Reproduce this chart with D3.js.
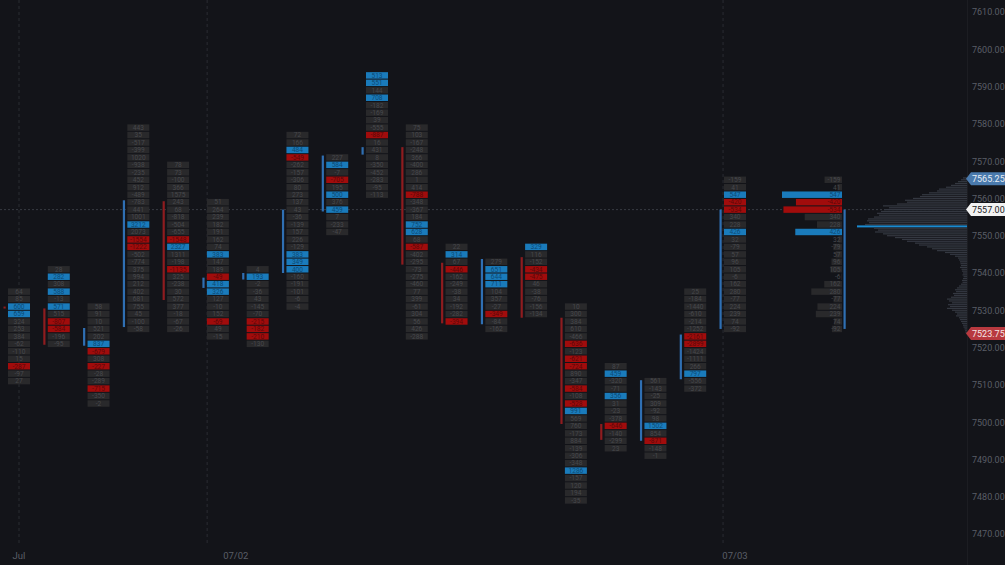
<!DOCTYPE html>
<html>
<head>
<meta charset="utf-8">
<script src="https://cdn.jsdelivr.net/npm/d3@7"></script>
<style>
  html, body { margin: 0; padding: 0; background: #131419; }
  svg { display: block; font-family: Roboto, "Noto Sans", sans-serif; }
</style>
</head>
<body>
<div id="chart"></div>
<script>
// footprint bars: top price level (centre of first 2pt cell), cell deltas top->down
var barTops = [7535, 7541, 7531, 7579, 7569, 7559, 7541, 7577, 7571, 7593, 7579, 7547, 7543, 7547, 7531, 7515, 7511, 7535, 7565];
var barCells = [
  [64, 85, 600, 659, 324, 253, 384, -62, -110, 15, -287, -97, 27],
  [28, 282, 308, 588, -13, 571, 515, -807, -584, -196, -95],
  [58, 91, 10, 521, 202, 837, -679, 308, -227, -28, -289, -715, -350, -2],
  [443, 35, -517, -399, 1020, -938, -235, 452, 912, -489, -783, 441, 1001, 3212, 2073, -1554, -1222, -502, -774, 375, 994, 212, 402, 681, 755, 45, -100, -58],
  [78, 73, -100, 366, 1575, 243, 68, -818, -504, -655, -1548, 2327, 1311, -198, -1135, 325, -238, 30, 572, 377, -18, -67, -26],
  [51, 264, 239, 182, 191, 162, 74, 383, 147, 189, -49, 418, 326, 127, -10, 152, -69, 49, -15],
  [4, 193, -2, -36, 43, -145, -70, -215, -182, -210, -130],
  [72, 166, 484, -549, -262, -157, -306, 80, 273, 137, 43, -36, -139, 157, 226, -129, 383, 349, 400, -160, -191, -101, -6, -4],
  [227, 584, -7, -705, 195, 500, 376, 459, 7, -233, -47],
  [513, 551, 144, 708, -182, -169, 39, -555, -887, 16, 431, 8, -350, -452, -283, -95, -113],
  [75, 103, -167, -248, 366, -400, 286, 1, 414, -788, -348, -367, 184, 752, 628, 68, -587, -402, -295, -73, -275, -460, 77, 399, -61, 304, 56, 426, -288],
  [22, 314, 67, -446, -162, -249, -38, 34, -192, -282, -394],
  [279, 651, 644, 711, 104, 357, -27, -349, -84, -162],
  [329, 116, -152, -434, -475, 46, -38, -76, -156, -134],
  [10, 300, 384, 610, -466, -636, -123, -621, -724, 890, -347, -584, -108, -528, 991, 569, 760, -173, 884, -139, -306, -348, 1286, -157, 120, 194, -35],
  [87, 459, -320, -71, 356, 31, -23, -378, -646, -140, -299, 23],
  [561, -143, -25, 309, -92, 98, 1502, 854, -871, -148, -1],
  [25, -184, -1440, -610, -214, -1252, -2161, -2899, -1424, -1111, 266, 797, -556, -372],
  [-159, 41, 547, -420, -534, 340, 228, 426, 32, -79, 57, 96, 105, -6, 162, 280, -77, 224, 239, 74, -92]
];
// imbalance cells (index into barCells), coloured by sign
var barImbalance = [
  [2, 3, 10], [1, 3, 5, 7, 8], [5, 6, 8, 11], [13, 15, 16], [10, 11, 14],
  [7, 10, 11, 12, 16], [1, 7, 8, 9], [2, 3, 16, 17, 18], [1, 3, 5, 7], [0, 1, 3, 8],
  [9, 13, 14, 16], [1, 3, 10], [1, 2, 3, 7], [0, 3, 4], [5, 7, 8, 11, 13, 14, 22],
  [1, 4, 8], [6, 8], [6, 7, 11], [2, 3, 4, 7]
];
var barOpen  = [7531, 7530.5, 7520.5, 7525.5, 7559.25, 7536, 7538.25, 7540, 7556.5, 7571.75, 7573.75, 7542.75, 7526.25, 7544.25, 7528, 7499.5, 7495, 7511.5, 7525];
var barClose = [7530.5, 7520.75, 7525.25, 7559.5, 7532.75, 7538.75, 7540, 7557, 7571.5, 7573.75, 7542.25, 7526.5, 7543.75, 7528, 7499.5, 7495.25, 7511.25, 7523.5, 7557];

// session volume profile, 0.5pt rows from 7565.5 downward
var profileTop = 7565.5;
var profileVol = [40, 60, 90, 120, 160, 210, 280, 300, 380, 450, 470, 540, 620, 600, 700, 840,
  780, 830, 860, 900, 880, 930, 990, 1000, 980, 1020, 1100, 930, 890, 920, 840, 800,
  720, 650, 600, 520, 480, 400, 350, 300, 220, 170, 120, 90, 80, 70, 65, 60,
  70, 55, 50, 40, 45, 35, 40, 50, 45, 60, 80, 100, 120, 110, 140, 130,
  160, 200, 180, 150, 190, 170, 200, 150, 120, 100, 110, 80, 70, 60, 50, 40,
  35, 25, 20, 15];

var priceTicks = d3.range(7470, 7611, 10);
var priceTags = [
  { price: 7565.25, bg: "#4a7aad", fg: "#e8eef5" },
  { price: 7557.00, bg: "#f2f2f2", fg: "#1a1a1a" },
  { price: 7523.75, bg: "#b8393f", fg: "#f5e6e6" }
];
var crossPrice = 7557;
var dateLines = [0, 4.73, 17.7];
var dateLabels = [{ text: "Jul", at: 0 }, { text: "07/02", at: 5.45 }, { text: "07/03", at: 18 }];

var W = 1005, H = 565;
var svg = d3.select("#chart").append("svg").attr("width", W).attr("height", H);
svg.append("rect").attr("width", W).attr("height", H).attr("fill", "#131419");

var y = d3.scaleLinear().domain([7470, 7610]).range([534, 12]);
var x = d3.scaleLinear().domain([0, 18]).range([19, 735]);
var cellW = 22;
var plotRight = 968;

// grid
var grid = svg.append("g");
grid.selectAll("line.v").data(dateLines).enter().append("line")
  .attr("x1", d => x(d)).attr("x2", d => x(d))
  .attr("y1", 0).attr("y2", 545)
  .attr("stroke", "#2a2c33").attr("stroke-dasharray", "3,3");
grid.append("line")
  .attr("x1", 0).attr("x2", plotRight)
  .attr("y1", y(crossPrice)).attr("y2", y(crossPrice))
  .attr("stroke", "#383b43").attr("stroke-dasharray", "2,2");

function cellY(p) { return y(p + 1) + 0.5; }
var cellH = y(7500) - y(7502) - 1;
var blue = "#1a7bbb", red = "#a10c0c";

// footprint columns
barCells.forEach(function (cells, i) {
  var g = svg.append("g");
  var cx = x(i);
  var hi = barImbalance[i];
  var rows = cells.map((v, j) => ({ v: v, p: barTops[i] - 2 * j, hi: hi.indexOf(j) >= 0 }));
  g.selectAll("rect").data(rows).enter().append("rect")
    .attr("x", cx - cellW / 2).attr("width", cellW)
    .attr("y", d => cellY(d.p)).attr("height", cellH)
    .attr("fill", d => d.hi ? (d.v > 0 ? blue : red) : "#29292b");
  g.selectAll("text").data(rows).enter().append("text")
    .attr("x", cx).attr("y", d => y(d.p) + 0.3)
    .attr("text-anchor", "middle").attr("dominant-baseline", "central")
    .attr("font-size", 6.6)
    .attr("fill", d => d.hi ? (d.v > 0 ? "#0d4a74" : "#5c0808") : "#47484c")
    .text(d => d.v);
  var up = barClose[i] >= barOpen[i];
  var top = Math.max(barOpen[i], barClose[i]), bot = Math.min(barOpen[i], barClose[i]);
  g.append("rect")
    .attr("x", cx - cellW / 2 - 4.5).attr("width", 2.2)
    .attr("y", y(top)).attr("height", Math.max(2, y(bot) - y(top)))
    .attr("fill", up ? "#2f6fb3" : "#8e1c1f");
});

// last bar drawn as horizontal histogram
var last = barCells.length - 1;
var histRight = x(last) + 107;
var hx = d3.scaleLinear().domain([0, d3.max(barCells[last], d => Math.abs(d))]).range([0, 60]);
var hg = svg.append("g");
var hrows = barCells[last].map((v, j) => ({ v: v, p: barTops[last] - 2 * j, hi: barImbalance[last].indexOf(j) >= 0 }));
hg.selectAll("rect").data(hrows).enter().append("rect")
  .attr("x", d => histRight - hx(Math.abs(d.v))).attr("width", d => hx(Math.abs(d.v)))
  .attr("y", d => cellY(d.p)).attr("height", cellH)
  .attr("fill", d => d.hi ? (d.v > 0 ? blue : red) : "#29292b");
hg.selectAll("text").data(hrows).enter().append("text")
  .attr("x", histRight - 1.5).attr("y", d => y(d.p) + 0.3)
  .attr("text-anchor", "end").attr("dominant-baseline", "central")
  .attr("font-size", 6.6)
  .attr("fill", d => d.hi ? (d.v > 0 ? "#0d4a74" : "#5c0808") : "#47484c")
  .text(d => d.v);
(function () {
  var top = Math.max(barOpen[last], barClose[last]), bot = Math.min(barOpen[last], barClose[last]);
  hg.append("rect").attr("x", histRight + 1.5).attr("width", 2.2)
    .attr("y", y(top)).attr("height", y(bot) - y(top))
    .attr("fill", barClose[last] >= barOpen[last] ? "#2f6fb3" : "#8e1c1f");
})();

// volume profile
var px = d3.scaleLinear().domain([0, d3.max(profileVol)]).range([0, 110]);
var pocIdx = profileVol.indexOf(d3.max(profileVol));
var pg = svg.append("g");
pg.selectAll("rect").data(profileVol).enter().append("rect")
  .attr("x", d => plotRight - 1 - px(d)).attr("width", d => px(d))
  .attr("y", (d, i) => y(profileTop - i * 0.5) - (i === pocIdx ? 1 : 0.6))
  .attr("height", (d, i) => i === pocIdx ? 2 : 1.2)
  .attr("fill", (d, i) => i === pocIdx ? "#1a8ad0" : "#343841");
svg.append("line").attr("x1", plotRight - 0.5).attr("x2", plotRight - 0.5)
  .attr("y1", 0).attr("y2", H).attr("stroke", "#1c1d22");

// price axis
var yAxis = d3.axisRight(y).tickValues(priceTicks).tickSize(0).tickPadding(0)
  .tickFormat(d3.format(".2f"));
var ag = svg.append("g").attr("transform", "translate(972,0)").call(yAxis);
ag.select(".domain").remove();
ag.selectAll("text").attr("fill", "#5a5e67").attr("font-size", 9)
  .attr("font-family", "Roboto, sans-serif");

// price tags
var tg = svg.selectAll("g.tag").data(priceTags).enter().append("g")
  .attr("transform", d => "translate(0," + y(d.price) + ")");
tg.append("path")
  .attr("d", "M966,0 L971,-6.5 L1005,-6.5 L1005,6.5 L971,6.5 Z")
  .attr("fill", d => d.bg);
tg.append("text").attr("x", 972).attr("y", 0.5)
  .attr("dominant-baseline", "central").attr("font-size", 9)
  .attr("fill", d => d.fg).text(d => d3.format(".2f")(d.price));

// date axis
svg.selectAll("text.date").data(dateLabels).enter().append("text")
  .attr("x", d => x(d.at)).attr("y", 555)
  .attr("text-anchor", "middle").attr("dominant-baseline", "central")
  .attr("font-size", 9.5).attr("fill", "#5a5e67")
  .text(d => d.text);
</script>
</body>
</html>
